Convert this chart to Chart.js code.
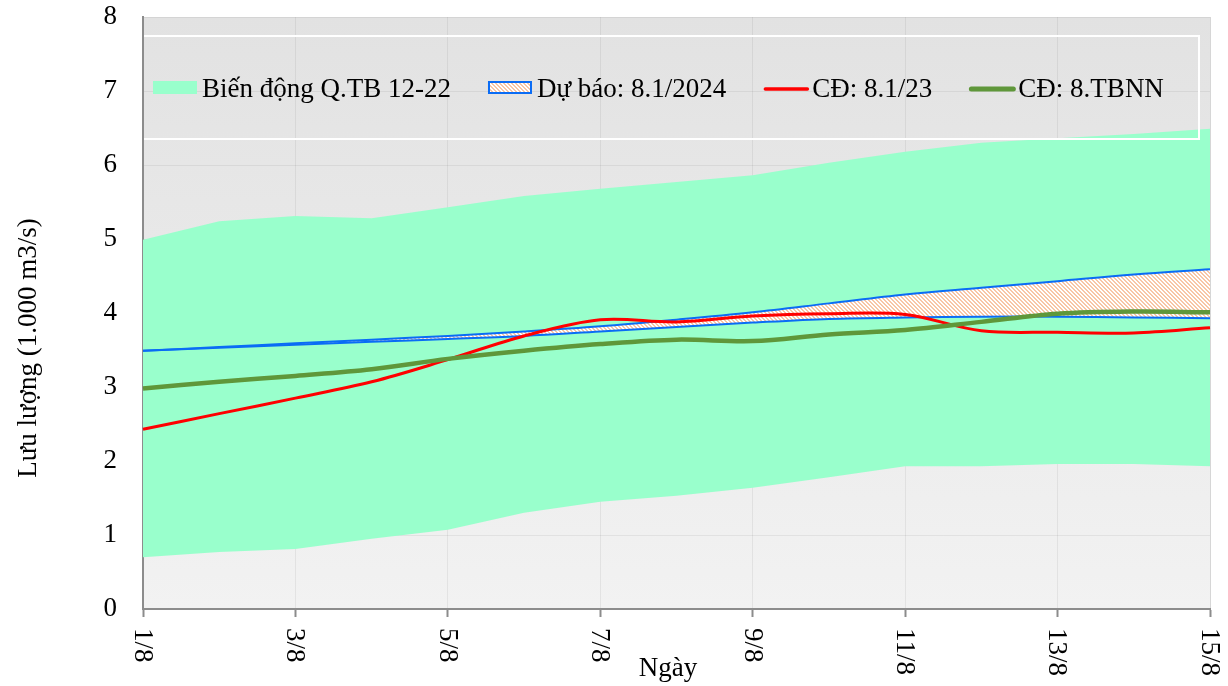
<!DOCTYPE html>
<html>
<head>
<meta charset="utf-8">
<script src="https://cdn.jsdelivr.net/npm/chart.js@4.4.1/dist/chart.umd.min.js"></script>
<style>
  html, body { margin: 0; padding: 0; background: #ffffff; }
  #wrap { width: 1228px; height: 686px; position: relative; }
</style>
</head>
<body>
<div id="wrap"><canvas id="c" width="1228" height="686"></canvas></div>
<script>
// Ngày trong tháng 8
const days = ['1/8', '2/8', '3/8', '4/8', '5/8', '6/8', '7/8', '8/8', '9/8', '10/8', '11/8', '12/8', '13/8', '14/8', '15/8'];

// Biến động Q trung bình 2012-2022 (nghìn m3/s): cận dưới / cận trên
const qMin = [0.70, 0.77, 0.81, 0.95, 1.07, 1.30, 1.45, 1.53, 1.64, 1.78, 1.93, 1.93, 1.96, 1.96, 1.93];
const qMax = [4.99, 5.24, 5.31, 5.28, 5.43, 5.58, 5.68, 5.77, 5.86, 6.03, 6.18, 6.30, 6.36, 6.42, 6.49];

// Dự báo 8.1/2024: biên dưới / biên trên
const fcLow  = [3.49, 3.53, 3.57, 3.61, 3.65, 3.69, 3.75, 3.81, 3.87, 3.92, 3.94, 3.95, 3.95, 3.94, 3.93];
const fcHigh = [3.49, 3.54, 3.59, 3.64, 3.69, 3.75, 3.82, 3.91, 4.01, 4.13, 4.25, 4.34, 4.43, 4.52, 4.59];

// Chu kỳ đối chiếu
const cd2023 = [2.43, 2.64, 2.85, 3.07, 3.37, 3.69, 3.91, 3.88, 3.96, 3.99, 3.98, 3.76, 3.74, 3.73, 3.80];
const cdTbnn = [2.98, 3.07, 3.15, 3.24, 3.38, 3.49, 3.58, 3.64, 3.62, 3.71, 3.77, 3.88, 3.99, 4.02, 4.01];

// Nhãn
const legendLabels = ['Biến động Q.TB 12-22', 'Dự báo: 8.1/2024', 'CĐ: 8.1/23', 'CĐ: 8.TBNN'];
const yTitle = 'Lưu lượng (1.000 m3/s)';
const xTitle = 'Ngày';
const yMin = 0, yMax = 8;

const FONT = '"Liberation Serif", "Times New Roman", serif';
const FONT_SIZE = 27;

const C_BAND = '#99FFCC';
const C_BLUE = '#0A6CF5';
const C_RED = '#FF0000';
const C_GREEN = '#5F973A';

// Nền gạch chéo cho dải dự báo
function makeHatch() {
  const p = document.createElement('canvas');
  p.width = 4; p.height = 4;
  const g = p.getContext('2d');
  g.fillStyle = '#ffffff';
  g.fillRect(0, 0, 4, 4);
  g.fillStyle = '#F8C6A6';
  for (let y = 0; y < 4; y++) {
    for (let x = 0; x < 4; x++) {
      const d = ((x - y) % 4 + 4) % 4;
      if (d === 0 || d === 1) g.fillRect(x, y, 1, 1);
    }
  }
  return p;
}

const canvas = document.getElementById('c');
const ctx0 = canvas.getContext('2d');
const hatch = ctx0.createPattern(makeHatch(), 'repeat');

const deco = {
  id: 'deco',
  beforeDraw(chart) {
    const { ctx, chartArea: a } = chart;
    const g = ctx.createLinearGradient(0, a.top, 0, a.bottom);
    g.addColorStop(0, '#e2e2e2');
    g.addColorStop(1, '#f2f2f2');
    ctx.save();
    ctx.fillStyle = g;
    ctx.fillRect(a.left, a.top, a.right - a.left, a.bottom - a.top);
    ctx.restore();
  },
  afterDatasetsDraw(chart) {
    const { ctx, chartArea: a } = chart;
    ctx.save();
    // khung chú giải (cạnh trái trùng trục tung)
    const bx0 = a.left + 1, bx1 = 1199, by0 = 36, by1 = 139;
    ctx.strokeStyle = '#ffffff';
    ctx.lineWidth = 2;
    ctx.beginPath();
    ctx.moveTo(bx0, by0);
    ctx.lineTo(bx1, by0);
    ctx.lineTo(bx1, by1);
    ctx.lineTo(bx0, by1);
    ctx.stroke();

    ctx.font = FONT_SIZE + 'px ' + FONT;
    ctx.textBaseline = 'alphabetic';
    ctx.textAlign = 'left';
    const cy = 88;
    let x = 153;
    legendLabels.forEach((label, i) => {
      if (i === 0) {
        ctx.fillStyle = C_BAND;
        ctx.fillRect(x, 81, 44, 13);
      } else if (i === 1) {
        ctx.fillStyle = hatch;
        ctx.fillRect(x, 81, 44, 13);
        ctx.strokeStyle = C_BLUE;
        ctx.lineWidth = 2;
        ctx.strokeRect(x + 1, 82, 42, 11);
      } else {
        ctx.strokeStyle = i === 2 ? C_RED : C_GREEN;
        ctx.lineWidth = i === 2 ? 3.5 : 5;
        ctx.lineCap = 'round';
        ctx.beginPath();
        ctx.moveTo(x + 2, cy + 1);
        ctx.lineTo(x + 44, cy + 1);
        ctx.stroke();
        ctx.lineCap = 'butt';
      }
      ctx.fillStyle = '#000000';
      ctx.fillText(label, x + 49, 97);
      x = x + 49 + ctx.measureText(label).width + 37;
    });
    ctx.restore();
  },
  afterDraw(chart) {
    const { ctx, chartArea: a, scales } = chart;
    ctx.save();
    ctx.fillStyle = '#000000';
    ctx.font = FONT_SIZE + 'px ' + FONT;
    // nhãn trục hoành, xoay dọc
    days.forEach((d, i) => {
      if (i % 2 !== 0) return;
      const px = scales.x.getPixelForValue(i);
      ctx.save();
      ctx.translate(px, a.bottom + 19);
      ctx.rotate(Math.PI / 2);
      ctx.textAlign = 'left';
      ctx.textBaseline = 'middle';
      ctx.fillText(d, 0, 1);
      ctx.restore();
    });
    // tên trục hoành
    ctx.textAlign = 'center';
    ctx.textBaseline = 'alphabetic';
    ctx.fillText(xTitle, 668, 676);
    // tên trục tung
    ctx.save();
    ctx.translate(29, 348);
    ctx.rotate(-Math.PI / 2);
    ctx.textAlign = 'center';
    ctx.textBaseline = 'middle';
    ctx.fillText(yTitle, 0, 0);
    ctx.restore();
    ctx.restore();
  }
};

const lineBase = { pointRadius: 0, pointHoverRadius: 0, tension: 0.35 };

new Chart(canvas, {
  type: 'line',
  data: {
    labels: days,
    datasets: [
      { label: 'qMin', data: qMin, borderWidth: 0, borderColor: 'transparent', pointRadius: 0, fill: false, tension: 0, order: 5 },
      { label: legendLabels[0], data: qMax, borderWidth: 0, borderColor: 'transparent', pointRadius: 0, fill: '-1', backgroundColor: C_BAND, tension: 0, order: 4 },
      { label: 'fcLow', data: fcLow, borderColor: C_BLUE, borderWidth: 2, fill: false, order: 3, ...lineBase },
      { label: legendLabels[1], data: fcHigh, borderColor: C_BLUE, borderWidth: 2, fill: '-1', backgroundColor: hatch, order: 2, ...lineBase },
      { label: legendLabels[2], data: cd2023, borderColor: C_RED, borderWidth: 3, fill: false, order: 1, ...lineBase },
      { label: legendLabels[3], data: cdTbnn, borderColor: C_GREEN, borderWidth: 4.5, fill: false, order: 0, ...lineBase }
    ]
  },
  options: {
    responsive: false,
    animation: false,
    devicePixelRatio: 1,
    layout: { padding: { top: 17, right: 18, left: 0, bottom: 0 } },
    plugins: {
      legend: { display: false },
      tooltip: { enabled: false },
      filler: { drawTime: 'beforeDatasetsDraw' }
    },
    scales: {
      x: {
        type: 'category',
        offset: false,
        ticks: { display: false, autoSkip: false },
        grid: {
          drawTicks: true,
          tickLength: 8,
          color: (c) => (c.index % 2 === 0 ? (c.index === days.length - 1 ? 'rgba(0,0,0,0.16)' : 'rgba(0,0,0,0.06)') : 'transparent'),
          tickColor: (c) => (c.index % 2 === 0 ? '#8c8c8c' : 'transparent'),
          tickWidth: 2
        },
        border: { display: true, color: '#8c8c8c', width: 2 },
        afterFit: (s) => { s.height = 77; s.paddingLeft = 0; s.paddingRight = 0; }
      },
      y: {
        min: yMin,
        max: yMax,
        ticks: {
          stepSize: 1,
          padding: 26,
          color: '#000000',
          font: { family: FONT, size: FONT_SIZE }
        },
        grid: { drawTicks: false, color: 'rgba(0,0,0,0.06)' },
        border: { display: true, color: '#8c8c8c', width: 2 },
        afterFit: (s) => { s.width = 143; s.paddingTop = 0; s.paddingBottom = 0; }
      }
    }
  },
  plugins: [deco]
});
</script>
</body>
</html>
